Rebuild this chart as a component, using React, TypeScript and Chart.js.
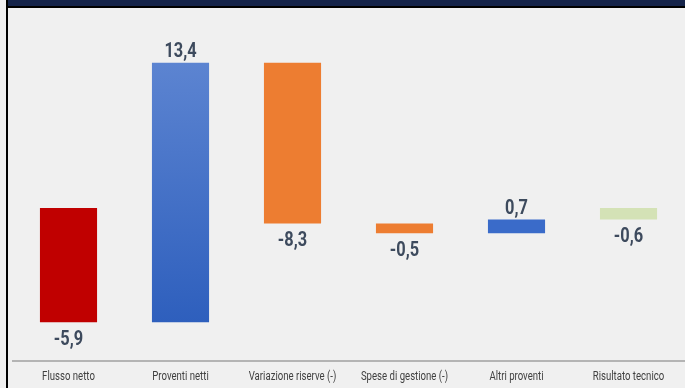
import React, { useEffect, useRef } from "react";
import { Chart, registerables } from "chart.js";

Chart.register(...registerables);

const categories = [
  "Flusso netto",
  "Proventi netti",
  "Variazione riserve (-)",
  "Spese di gestione (-)",
  "Altri proventi",
  "Risultato tecnico",
];
const changes = [-5.9, 13.4, -8.3, -0.5, 0.7, -0.6];
const isTotal = [false, false, false, false, false, true];
const barColors = ["#c00000", "blue-gradient", "#ed7d31", "#ed7d31", "#3a6bc9", "#d4e2b6"];

const Y_MIN = -7.9;
const Y_MAX = 9.7;

const FONT = 'Roboto, "DejaVu Sans", sans-serif';

function buildRanges(): [number, number][] {
  const out: [number, number][] = [];
  let run = 0;
  changes.forEach((v, i) => {
    if (isTotal[i]) {
      out.push([0, v]);
      run = v;
    } else {
      out.push([run, run + v]);
      run = run + v;
    }
  });
  return out;
}

function narrowText(ctx: CanvasRenderingContext2D, txt: string, x: number, y: number, sx: number) {
  ctx.save();
  ctx.translate(x, y);
  ctx.scale(sx, 1);
  ctx.fillText(txt, 0, 0);
  ctx.restore();
}

const labelPlugin = {
  id: "wfLabels",
  afterDatasetsDraw(chart: any) {
    const ctx = chart.ctx;
    const meta = chart.getDatasetMeta(0);
    const area = chart.chartArea;
    ctx.save();
    ctx.font = `bold 21px ${FONT}`;
    ctx.fillStyle = "#3d4a5d";
    ctx.textAlign = "center";
    meta.data.forEach((bar: any, i: number) => {
      const v = changes[i];
      const txt = v.toFixed(1).replace(".", ",");
      const top = Math.min(bar.y, bar.base);
      const bottom = Math.max(bar.y, bar.base);
      if (v >= 0) {
        ctx.textBaseline = "alphabetic";
        narrowText(ctx, txt, bar.x, top - 6, 0.78);
      } else {
        ctx.textBaseline = "top";
        narrowText(ctx, txt, bar.x, bottom + 7, 0.78);
      }
    });
    // category labels
    ctx.font = `12px ${FONT}`;
    ctx.fillStyle = "#404040";
    ctx.textBaseline = "middle";
    meta.data.forEach((bar: any, i: number) => {
      narrowText(ctx, categories[i], bar.x, area.bottom + 16, 0.8);
    });
    ctx.restore();
  },
};

export default function App() {
  const ref = useRef<HTMLCanvasElement | null>(null);
  useEffect(() => {
    document.body.style.margin = "0";
    const ranges = buildRanges();
    const chart = new Chart(ref.current!, {
      type: "bar",
      data: {
        labels: categories,
        datasets: [
          {
            data: ranges as any,
            backgroundColor: (c: any) => {
              const col = barColors[c.dataIndex];
              if (col !== "blue-gradient") return col;
              const ch = c.chart;
              const ys = ch.scales.y;
              if (!ys || !ch.chartArea) return "#4472c4";
              const r = ranges[c.dataIndex];
              const y1 = ys.getPixelForValue(Math.max(r[0], r[1]));
              const y2 = ys.getPixelForValue(Math.min(r[0], r[1]));
              const g = ch.ctx.createLinearGradient(0, y1, 0, y2);
              g.addColorStop(0, "#5c84d1");
              g.addColorStop(1, "#2e5fbd");
              return g;
            },
            borderWidth: 0,
            barPercentage: 0.51,
            categoryPercentage: 1,
          },
        ],
      },
      options: {
        animation: false,
        responsive: false,
        maintainAspectRatio: false,
        layout: { padding: { left: 4.5, right: 0.5, top: 12, bottom: 27 } },
        plugins: {
          legend: { display: false },
          tooltip: { enabled: false },
        },
        scales: {
          x: {
            grid: { display: false, drawTicks: false },
            border: { display: true, color: "#b4b4b4", width: 2 },
            ticks: { display: false },
          },
          y: {
            display: false,
            min: Y_MIN,
            max: Y_MAX,
          },
        },
      },
      plugins: [labelPlugin],
    });
    return () => chart.destroy();
  }, []);

  return (
    <div
      style={{
        position: "absolute",
        left: 0,
        top: 0,
        width: 685,
        height: 388,
        background: "#f0f0f0",
        overflow: "hidden",
      }}
    >
      <div style={{ position: "absolute", left: 8, top: 0, width: 677, height: 6, background: "#15244a" }} />
      <div style={{ position: "absolute", left: 6, top: 6, width: 679, height: 1.5, background: "#000" }} />
      <div style={{ position: "absolute", left: 6, top: 0, width: 2, height: 388, background: "#000" }} />
      <canvas
        ref={ref}
        width={677}
        height={380}
        style={{ position: "absolute", left: 8, top: 8, width: 677, height: 380 }}
      />
    </div>
  );
}
